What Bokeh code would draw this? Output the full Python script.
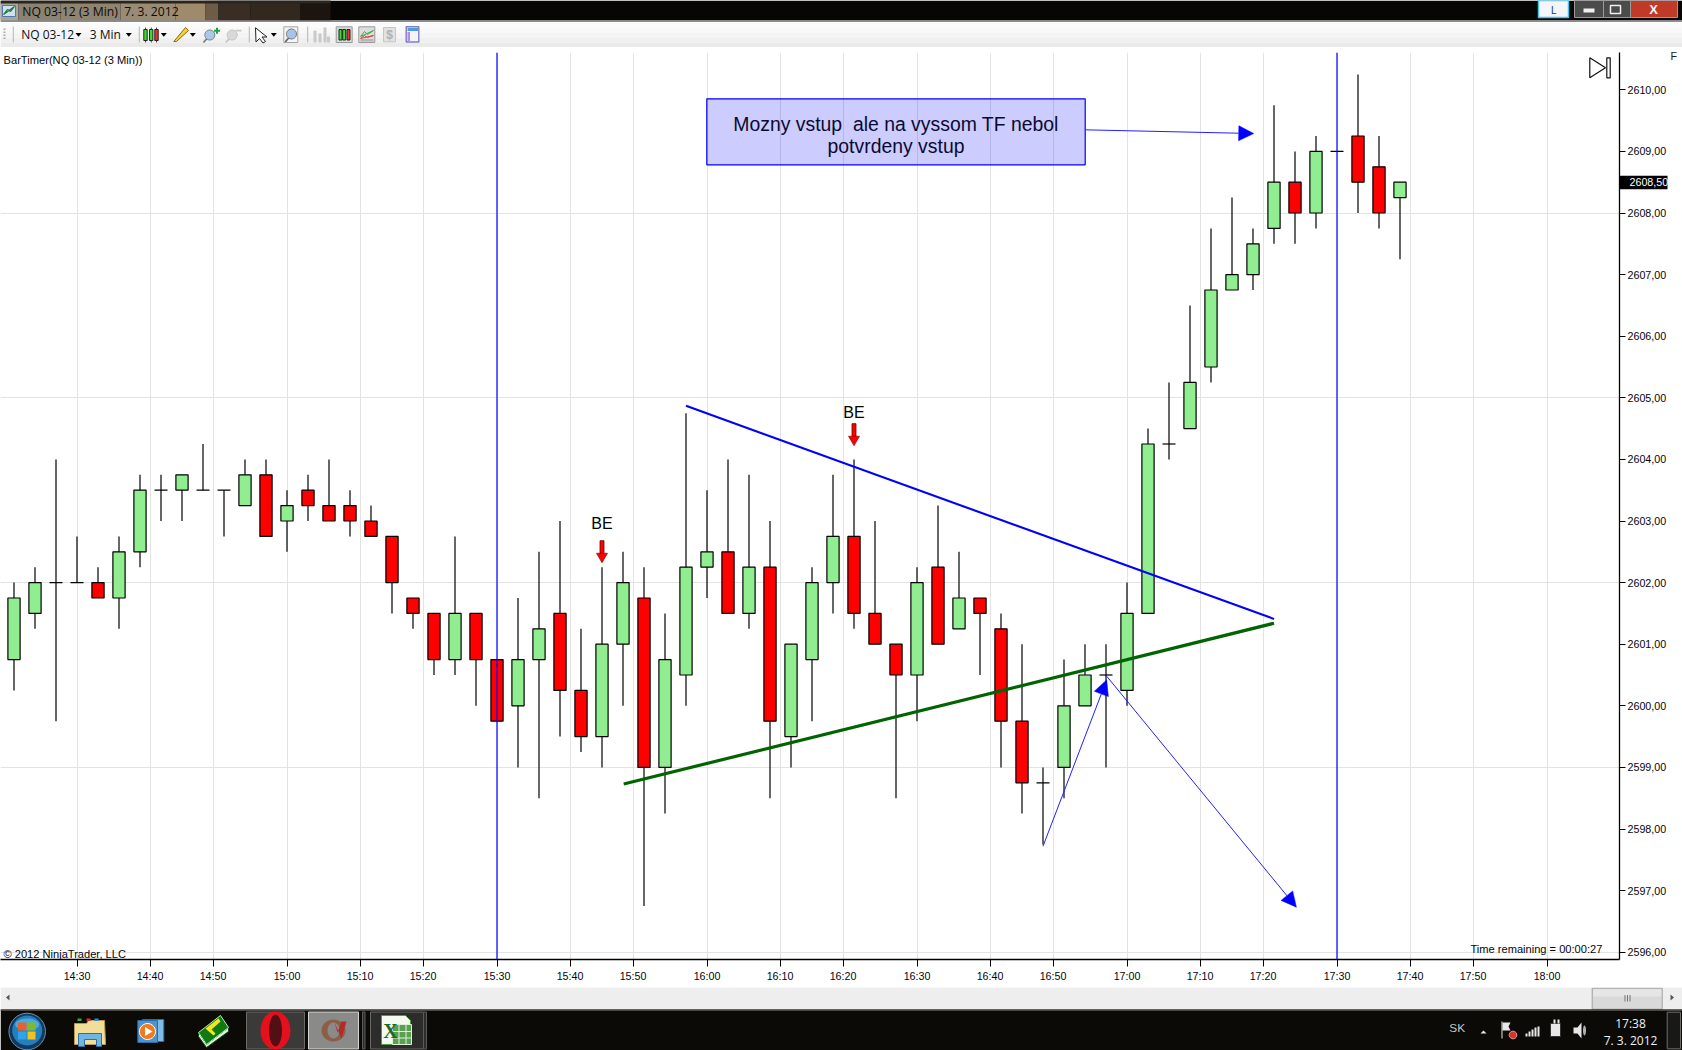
from bokeh.plotting import figure
from bokeh.embed import file_html
from bokeh.layouts import column
from bokeh.resources import INLINE
from bokeh.models import (Arrow, BoxAnnotation, FixedTicker, Label, LinearAxis, NormalHead,
                          PolyAnnotation, Range1d, Span)
import numpy as np

# ---------- data ----------
bar_minutes = list(range(861, 1062, 3))   # 14:21 ... 17:39, 3-minute bars
opens = [2600.75,2601.5,2602,2602,2602,2601.75,2602.5,2603.5,2603.5,2603.5,2603.5,2603.25,2603.75,2603,2603.5,2603.25,2603.25,2603,2602.75,2601.75,2601.5,2600.75,2601.5,2600.75,2600,2600.75,2601.5,2600.25,2599.5,2601,2601.75,2599,2600.5,2602.25,2602.5,2601.5,2602.25,2599.5,2600.75,2602,2602.75,2601.5,2601,2600.5,2602.25,2601.25,2601.75,2601.25,2599.75,2598.75,2599,2600,2600.5,2600.25,2601.5,2604.25,2604.5,2605.5,2606.75,2607,2607.75,2608.5,2608,2609,2609.25,2608.75,2608.25]
highs = [2602,2602.25,2604,2602.75,2602.25,2602.75,2603.75,2603.75,2603.75,2604.25,2603.5,2604,2604,2603.5,2603.75,2604,2603.5,2603.25,2602.75,2601.75,2601.5,2602.75,2601.5,2600.75,2601.75,2602.5,2603,2601.25,2602.25,2602.5,2602.25,2601.5,2604.75,2603.5,2604,2603.75,2603,2601,2602.25,2603.75,2604,2603,2601,2602.25,2603.25,2602.5,2601.75,2601.5,2601,2599,2600.75,2601,2601,2602,2604.5,2605.25,2606.5,2607.75,2608.25,2607.75,2609.75,2609,2609.25,2609,2610.25,2609.25,2608.5]
lows = [2600.25,2601.25,2599.75,2602,2601.75,2601.25,2602.25,2603,2603,2603.5,2602.75,2603.25,2602.75,2602.5,2603,2603,2602.75,2602.75,2601.5,2601.25,2600.5,2600.5,2600,2599.75,2599,2598.5,2599.5,2599.25,2599,2600,2596.75,2598.25,2600,2601.75,2601.5,2601.25,2598.5,2599,2599.75,2601.5,2601.25,2601,2598.5,2599.75,2601,2601.25,2600.5,2599,2598.25,2597.75,2598.5,2600,2599,2600,2601.5,2604,2604.5,2605.25,2606.75,2606.75,2607.5,2607.5,2607.75,2609,2608,2607.75,2607.25]
closes = [2601.75,2602,2602,2602,2601.75,2602.5,2603.5,2603.5,2603.75,2603.5,2603.5,2603.75,2602.75,2603.25,2603.25,2603,2603,2602.75,2602,2601.5,2600.75,2601.5,2600.75,2599.75,2600.75,2601.25,2600.25,2599.5,2601,2602,2599,2600.75,2602.25,2602.5,2601.5,2602.25,2599.75,2601,2602,2602.75,2601.5,2601,2600.5,2602,2601,2601.75,2601.5,2599.75,2598.75,2598.75,2600,2600.5,2600.5,2601.5,2604.25,2604.25,2605.25,2606.75,2607,2607.5,2608.5,2608,2609,2609,2608.5,2608,2608.5]

tick_minutes = [870,880.5,889.5,900,910.5,919.5,930,940.5,949.5,960,970.5,979.5,990,1000.5,1009.5,1020,1030.5,1039.5,1050,1060.5,1069.5,1080]
tick_labels = ["14:30","14:40","14:50","15:00","15:10","15:20","15:30","15:40","15:50","16:00","16:10","16:20","16:30","16:40","16:50","17:00","17:10","17:20","17:30","17:40","17:50","18:00"]
price_ticks = list(range(2596, 2611))
price_labels = [f"{v},00" for v in price_ticks]
grid_prices = [2596, 2599, 2602, 2605, 2608]
session_lines = [930, 1050]
last_price = 2608.5
last_price_label = "2608,50"

blue_trend_x = [957.0, 1041.0]
blue_trend_y = [2604.87, 2601.41]
green_trend_x = [948.1, 1041.0]
green_trend_y = [2598.73, 2601.34]
# x0, y0, x1, y1
arrows = [(1008.0, 2597.72, 1017.1, 2600.42),
          (1017.1, 2600.48, 1044.2, 2596.73),
          (1014.1, 2609.35, 1038.1, 2609.29)]
be_x = [945, 981]
be_text_y = [2602.955, 2604.765]
be_top = [2602.68, 2604.58]
be_tip = [2602.35, 2604.25]
note_lines = ["Mozny vstup \u00a0ale na vyssom TF nebol", "potvrdeny vstup"]
note_box = (959.97, 1014.03, 2608.782, 2609.854)
note_center_x = 987.0
note_line_y = [2609.45, 2609.09]

# ---------- figures: window top, chart, window bottom ----------
W = 1682
TOP_H, CHART_H, BOT_H = 47, 940, 63
FONT = "Liberation Sans"
FT, FW, FH = 52 - TOP_H, 1619, 907
px_per_min = 7.0
px_per_pt = 61.6
x_start = 930 - 496.5 / px_per_min
y_start = 2596 - (52 + FH - 951.7) / px_per_pt

p = figure(width=W, height=CHART_H, output_backend="svg", toolbar_location=None,
           x_range=(x_start, x_start + FW / px_per_min),
           y_range=(y_start, y_start + FH / px_per_pt),
           y_axis_location="right", min_border_left=0, min_border_top=FT,
           min_border_right=W - FW, min_border_bottom=CHART_H - FT - FH, frame_align=False)
p.outline_line_color = None
p.background_fill_color = "white"
p.border_fill_color = "white"

def strip(height, y0):
    f = figure(width=W, height=height, output_backend="svg", toolbar_location=None,
               x_range=Range1d(0, W), y_range=Range1d(y0 + height, y0),
               x_axis_location=None, y_axis_location=None, min_border=0, frame_align=False)
    f.outline_line_color = None
    f.grid.visible = False
    f.background_fill_color = "white"
    f.border_fill_color = "white"
    return f
top = strip(TOP_H, 0)
bot = strip(BOT_H, TOP_H + CHART_H)

tick_pos = [t - 0.07 if t % 3 else t for t in tick_minutes]
p.xaxis.ticker = FixedTicker(ticks=tick_pos)
p.xaxis.major_label_overrides = dict(zip(tick_pos, tick_labels))
p.yaxis.ticker = FixedTicker(ticks=price_ticks)
p.yaxis.major_label_overrides = dict(zip(price_ticks, price_labels))
for ax in (p.xaxis[0], p.yaxis[0]):
    ax.axis_line_color = "black"
    ax.axis_line_width = 1.3
    ax.major_tick_line_color = "black"
    ax.major_tick_line_width = 1
    ax.major_tick_in = 0
    ax.minor_tick_line_color = None
    ax.major_label_text_font = FONT
    ax.major_label_text_font_size = "10.7px"
    ax.major_label_text_color = "#050510"
p.xaxis.major_tick_out = 7
p.xaxis.major_label_standoff = 3
p.yaxis.major_tick_out = 6
p.yaxis.major_label_standoff = 2
p.xgrid.ticker = FixedTicker(ticks=tick_pos)
p.ygrid.ticker = FixedTicker(ticks=grid_prices)
p.xgrid.grid_line_color = "#E3E3E3"
p.ygrid.grid_line_color = "#E3E3E3"
p.xgrid.grid_line_width = 1
p.ygrid.grid_line_width = 1

for s in session_lines:
    p.add_layout(Span(location=s, dimension="height", line_color="#0000FF", line_width=1.2))

# candles
up_x, up_o, up_c, dn_x, dn_o, dn_c, dj_x, dj_y = [], [], [], [], [], [], [], []
for m, o, c in zip(bar_minutes, opens, closes):
    if c > o:
        up_x.append(m); up_o.append(o); up_c.append(c)
    elif c < o:
        dn_x.append(m); dn_o.append(o); dn_c.append(c)
    else:
        dj_x.append(m); dj_y.append(o)
p.segment(bar_minutes, lows, bar_minutes, highs, line_color="black", line_width=1.2)
body_w = 12.2 / px_per_min
p.vbar(x=up_x, bottom=up_o, top=up_c, width=body_w, fill_color="#90EE90", line_color="black", line_width=1.2)
p.vbar(x=dn_x, bottom=dn_c, top=dn_o, width=body_w, fill_color="#FF0000", line_color="black", line_width=1.2)
p.segment([x - 6.5 / px_per_min for x in dj_x], dj_y, [x + 6.5 / px_per_min for x in dj_x], dj_y,
          line_color="black", line_width=1.2)

# annotation box
p.quad(left=[note_box[0]], right=[note_box[1]], bottom=[note_box[2]], top=[note_box[3]],
       fill_color="#0000FF", fill_alpha=0.2, line_color="#0000FF", line_width=1.2)
for t, ly in zip(note_lines, note_line_y):
    p.add_layout(Label(x=note_center_x, y=ly, text=t, text_align="center", text_baseline="middle",
                       text_font=FONT, text_font_size="19.4px", text_color="#0a0a30"))

# trend lines and arrows
p.line(blue_trend_x, blue_trend_y, line_color="#0000FF", line_width=2.1)
p.line(green_trend_x, green_trend_y, line_color="#006400", line_width=3.2)
for x0, y0, x1, y1 in arrows:
    p.add_layout(Arrow(x_start=x0, y_start=y0, x_end=x1, y_end=y1, line_color="#2020FF", line_width=1,
                       end=NormalHead(size=15, fill_color="#0000FF", line_color="#0000FF", line_width=0.5)))

# BE markers
be_mid = [(a + b + 0.1) / 2 for a, b in zip(be_top, be_tip)]
be_len = [a - b - 0.1 for a, b in zip(be_top, be_tip)]
p.rect(x=be_x, y=be_mid, width=4, width_units="screen", height=be_len, fill_color="#FF0000",
       line_color="#700000", line_width=0.8)
p.scatter(x=be_x, y=[b + 0.075 for b in be_tip], marker="inverted_triangle", size=11,
          fill_color="#FF0000", line_color="#700000", line_width=0.6)
for x, y in zip(be_x, be_text_y):
    p.add_layout(Label(x=x, y=y, text="BE", text_align="center", text_baseline="middle",
                       text_font=FONT, text_font_size="16px", text_color="black"))

# ---------- window chrome, in screenshot pixels ----------
def box(f, l, t, r, b, fill, line=None, lw=1):
    f.add_layout(BoxAnnotation(left=l, right=r, top=t, bottom=b,
                               fill_color=fill, fill_alpha=1 if fill else 0,
                               line_color=line, line_width=lw, line_alpha=1 if line else 0,
                               editable=False, level="overlay"))
def poly(f, xs, ys, fill, line=None, lw=1):
    f.add_layout(PolyAnnotation(xs=[float(x) for x in xs], ys=[float(y) for y in ys],
                                fill_color=fill, fill_alpha=1 if fill else 0,
                                line_color=line, line_width=lw, line_alpha=1 if line else 0,
                                level="overlay"))
def circ(f, cx, cy, rx, fill, line=None, ry=None, lw=1):
    ry = ry or rx
    a = np.linspace(0, 2 * np.pi, 28)[:-1]
    poly(f, list(cx + rx * np.cos(a)), list(cy + ry * np.sin(a)), fill, line, lw)
def text(f, x, y, s, size, color="black", font=FONT, align="left", weight="normal"):
    f.add_layout(Label(x=x, y=y, text=s, text_font=font, text_font_size=f"{size}px",
                       text_color=color, text_align=align, text_baseline="middle",
                       text_font_style=weight, level="overlay"))
def tri_down(f, cx, cy, c="black", s=3):
    poly(f, [cx - s, cx + s, cx], [cy - s / 2, cy - s / 2, cy + s / 1.4], c)

# title bar
box(top, 0, 0, 1682, 20, "#080604")
bands = [(18, "#A6A69C"), (60, "#8A8272"), (120, "#8E8470"), (175, "#9A8C74"), (205, "#A08A6C"),
         (218, "#6E5C48"), (250, "#3A2E24"), (300, "#33281E"), (330, "#1C150F")]
px = 0
for x2, c in bands:
    box(top, px, 0, x2, 20, c)
    px = x2
box(top, 0, 0, 330, 3, "#2A251F")
box(top, 0, 20, 1682, 21.5, "#8d8d8d")
box(top, 0, 21.5, 1682, 22.5, "#FFFFFF")
poly(top, [2, 15, 15, 2], [5, 5, 16, 16], "#cfe0f2", "#5577aa")
poly(top, [3, 7, 10, 14], [14, 9, 11, 6], None, "#1a7a30", 1.2)
text(top, 21.7, 11, "NQ 03-12 (3 Min) \u00a07. 3. 2012", 12.2, "#0c0a08", "Open Sans")
box(top, 1538, 0, 1568, 17, "#F4F6FA", "#41C8F0", 1.5)
text(top, 1553, 9, "L", 11, "#18308a", "Open Sans", "center")
box(top, 1574, 0, 1603, 17, "#4b4b4b", "#999999")
box(top, 1603, 0, 1630, 17, "#4b4b4b", "#999999")
box(top, 1630, 0, 1677, 17, "#C03A28", "#999999")
box(top, 1583, 8, 1594, 12, "#F0F0F0")
box(top, 1610, 5, 1620, 13, None, "#F0F0F0", 1.5)
text(top, 1653, 8.5, "X", 13, "#F4F4F4", FONT, "center", "bold")

# toolbar
shades = ["#FBFBFB", "#F8F8F8", "#F4F4F4", "#EFEFEF", "#EAEAEA"]
for i, c in enumerate(shades):
    box(top, 0, 22.5 + i * 4.9, 1682, 22.5 + (i + 1) * 4.9, c)
for y in (28, 31, 34, 37):
    box(top, 3, y, 5, y + 1.5, "#A8A8A8")
for x in (12.3, 138.3, 248.3, 306.7):
    box(top, x, 26, x + 1, 42, "#B5B5B5")
text(top, 20.7, 34, "NQ 03-12", 12, "#101010", "Open Sans")
text(top, 89.3, 34, "3 Min", 12, "#101010", "Open Sans")
for x in (78, 128.3, 163.3, 192.3, 273.3):
    tri_down(top, x, 34)
for x, c in ((145, "#3DDC2E"), (150.7, "#3DDC2E"), (156, "#E8332A")):
    box(top, x - 0.4, 27, x + 0.4, 42, "#222222")
    box(top, x - 1.7, 29, x + 1.7, 40, c, "#222222")
poly(top, [173.3, 176, 188, 185], [41, 41, 30, 27], "#F6CE3E", "#8a6a10")
for cx_, pl in ((209.3, True), (231.7, False)):
    col = "#7d7d7d" if pl else "#C4C4C4"
    poly(top, [cx_ - 7, cx_ - 5.6, cx_ - 2.2, cx_ - 3.6], [41.5, 42.5, 38.5, 37.5], col)
    circ(top, cx_, 34.5, 5, "#A9C8EA" if pl else "#D9D9D9", col)
box(top, 213.5, 29.3, 219.5, 31.3, "#11A83A")
box(top, 215.5, 27.3, 217.5, 33.3, "#11A83A")
box(top, 235, 29.3, 241, 31, "#C8C8C8")
poly(top, [255, 266.5, 261.5, 265, 262.5, 259, 255.5], [27.3, 36.5, 36.5, 41, 42.5, 38, 41.5], "#FFFFFF", "#222222")
box(top, 283.3, 26.3, 297.3, 42, "#F4F4F4", "#A5A5A5")
poly(top, [284, 285.4, 288.8, 287.4], [41, 42, 38, 37], "#666666")
circ(top, 291, 33.5, 5, "#A5C5E8", "#777777")
for x, h in ((313, 12), (318, 9), (323, 15), (326.5, 6)):
    box(top, x, 42 - h, x + 3, 42, "#C9C9C9")
box(top, 335.7, 26.3, 351.7, 42, "#DADADA", "#9A9A9A")
for x, c in ((340, "#3DDC2E"), (343.7, "#3DDC2E"), (348, "#E8332A")):
    box(top, x - 1.5, 29, x + 1.5, 39.5, c, "#222222")
box(top, 358.3, 26.3, 374.3, 42, "#DEDEDE", "#9A9A9A")
poly(top, [360, 364, 367, 373], [36, 31, 34, 30], None, "#30B040", 1)
poly(top, [360, 364, 367, 373], [38, 35, 37, 35], None, "#E04040", 1)
box(top, 360, 38.5, 373, 41, "#B5B5B5")
box(top, 383, 27, 395, 41.3, "#E2E2E2", "#C5C5C5")
text(top, 389, 34.5, "$", 12, "#B0B0B0", FONT, "center", "bold")
box(top, 405.7, 26.3, 418.3, 41.5, "#F4F4FB", "#7D7DC8", 1.4)
box(top, 407, 27.5, 417.5, 30.5, "#4E9BE0")
box(top, 407, 31.5, 409.5, 40.5, "#B38BE8")

# chart captions: chart figure, its own data space is prices and minutes
def cx(x): return x_start + x / px_per_min
def cy(y): return y_start + (52 + FH - y) / px_per_pt
def ctext(x, y, s, size):
    p.add_layout(Label(x=cx(x), y=cy(y), text=s, text_font=FONT, text_font_size=f"{size}px",
                       text_color="#050510", text_baseline="middle"))
ctext(3, 59, "BarTimer(NQ 03-12 (3 Min))", 11.15)
ctext(3, 953, "\u00a9 2012 NinjaTrader, LLC", 11.1)
ctext(1470, 948.5, "Time remaining = 00:00:27", 11.1)
p.add_layout(PolyAnnotation(xs=[cx(1589.3), cx(1605), cx(1589.3)], ys=[cy(57.3), cy(67.3), cy(77.3)],
                            fill_color="white", fill_alpha=1, line_color="#111111", line_alpha=1, line_width=1.2))
p.add_layout(BoxAnnotation(left=cx(1606.3), right=cx(1609.7), top=cy(57.3), bottom=cy(77.3),
                           fill_color="white", fill_alpha=1, line_color="#111111", line_alpha=1,
                           line_width=1.2, editable=False))

# right margin: last price tag and the F mark, drawn as axes of their own
def margin_axis(tick, label, color, standoff, tick_color=None, tick_width=1, t_in=0, t_out=0):
    ax = LinearAxis(ticker=FixedTicker(ticks=[tick]), major_label_overrides={tick: label},
                    axis_line_color=None, major_tick_line_color=tick_color,
                    major_tick_line_width=tick_width, minor_tick_line_color=None,
                    major_tick_in=t_in, major_tick_out=t_out, major_label_standoff=standoff,
                    major_label_text_font=FONT, major_label_text_font_size="10.7px",
                    major_label_text_color=color)
    p.add_layout(ax, "right")
F_TICK = 2610.55
margin_axis(last_price, last_price_label, "white", -40, "black", 13.3, 50, -2)
margin_axis(F_TICK, "F", "#202020", -1)

# scrollbar
box(bot, 0, 986.7, 1682, 1009, "#EEEEEE")
box(bot, 0, 986.7, 1682, 987.5, "#F6F6F6")
poly(bot, [9, 5.5, 9], [994, 997, 1000], "#555555")
box(bot, 1591.7, 987.7, 1661.7, 1008.7, "#D9D9D9", "#A0A0A0")
box(bot, 1592.7, 988.7, 1660.7, 996, "#E6E6E6")
for x in (1624, 1626.5, 1629):
    box(bot, x, 994.5, x + 1, 1001, "#777777")
poly(bot, [1670, 1673.5, 1670], [994, 997, 1000], "#555555")

# task bar
box(bot, 0, 1009, 1682, 1050, "#0C0A07")
box(bot, 0, 1009, 1682, 1010.5, "#4A4640")
circ(bot, 26.7, 1031, 18.3, "#12395F", "#6E8FA8")
circ(bot, 26.7, 1030, 15, "#2380BE")
circ(bot, 26.7, 1024, 12, "#4FA8DC", None, 6)
box(bot, 17.5, 1022, 26, 1030, "#E8602C")
box(bot, 27, 1022, 35, 1030, "#7FBA2E")
box(bot, 17.5, 1031, 26, 1039, "#2FA4E8")
box(bot, 27, 1031, 35, 1039, "#F4C11E")
# folder
poly(bot, [74, 86, 88, 104, 105, 74], [1023, 1023, 1020, 1020, 1044, 1044], "#F0DE9A", "#B89B50")
for x, c in ((77, "#2EAA3E"), (86, "#C8332C"), (94, "#2E88D8")):
    box(bot, x, 1018, x + 4, 1020.5, c)
poly(bot, [78, 101, 101, 96, 96, 84, 84, 78], [1033, 1033, 1046, 1046, 1039, 1039, 1046, 1046], "#6FB6E2", "#2F6EA6")
# media
box(bot, 142, 1019, 163.3, 1041, "#7FBDE5", "#2C6CA8")
box(bot, 137.3, 1020, 157, 1042, "#4B94CE", "#2C6CA8")
circ(bot, 147, 1031, 8, "#F07A1C", "#FFFFFF")
poly(bot, [144.5, 152, 144.5], [1026.5, 1031, 1035.5], "#FFFFFF")
# book
poly(bot, [198, 206, 228, 228, 206, 198], [1032, 1044, 1027, 1031, 1047, 1036], "#E6F4E6", "#0F4A10")
poly(bot, [198, 220, 228, 206], [1032, 1015, 1027, 1044], "#0F7A10", "#B8E8B8")
poly(bot, [205, 218, 220, 211, 215, 213], [1028, 1018, 1021, 1029, 1033, 1035], "#F2E81E")
# buttons
for l, r, c, e in ((246, 304, "#3A3A38", "#6A6A68"), (308, 358, "#8A8A88", "#D6D6D6"), (370, 423, "#2C2C2A", "#6A6A68")):
    box(bot, l, 1011.5, r, 1048.5, c, e)
box(bot, 362, 1011.5, 364.5, 1048.5, "#2C2C2A", "#5A5A58")
box(bot, 423, 1011.5, 426, 1048.5, "#2C2C2A", "#5A5A58")
circ(bot, 275, 1030, 15, "#E5101E", None, 19)
circ(bot, 275, 1030, 6.5, "#521015", None, 16)
circ(bot, 333, 1030, 12, "#8C5E46", None, 11)
circ(bot, 333, 1030, 6, "#8A8A88", None, 8)
poly(bot, [334, 341, 346, 341, 337], [1022, 1038, 1021, 1021, 1032], "#B42A2A")
poly(bot, [381, 405, 410, 410, 381], [1015, 1015, 1020, 1044, 1044], "#F4FAF0", "#4E9C3E")
box(bot, 392, 1024, 411, 1044, "#5AA052", "#DFF0DA")
for bx in (398, 405):
    box(bot, bx, 1024, bx + 1, 1044, "#DFF0DA")
for by in (1030.5, 1037):
    box(bot, 392, by, 411, by + 1, "#DFF0DA")
text(bot, 390, 1030, "X", 20, "#1A6A2A", "Liberation Serif", "center", "bold")
# tray
text(bot, 1456.7, 1027, "SK", 11.8, "#C8C8C8", FONT, "center")
poly(bot, [1480, 1486, 1483], [1033, 1033, 1030], "#E8E8E8")
box(bot, 1501, 1021, 1502, 1038, "#E8E8E8")
poly(bot, [1502, 1510, 1508, 1510, 1502], [1022, 1022, 1026, 1030, 1030], "#E8E8E8")
circ(bot, 1512.5, 1034.5, 3.8, "#D8342C", "#F0A0A0")
for i, h in enumerate((3, 5, 7, 9, 10)):
    box(bot, 1525 + i * 3, 1036 - h, 1527 + i * 3, 1036, "#E6E6E6")
box(bot, 1550, 1023, 1560, 1036, "#E8E8E8", "#333333")
box(bot, 1553, 1019, 1555, 1023, "#E8E8E8")
box(bot, 1557, 1019, 1559, 1023, "#E8E8E8")
poly(bot, [1573, 1577, 1581, 1581, 1577, 1573], [1027, 1027, 1022, 1038, 1033, 1033], "#E6E6E6")
circ(bot, 1584, 1030, 1.5, "#B0B0B0", None, 5)
text(bot, 1630, 1022.5, "17:38", 12, "#F0F0F0", "Open Sans", "center")
text(bot, 1630, 1039.5, "7. 3. 2012", 12, "#F0F0F0", "Open Sans", "center")
box(bot, 1666.7, 1011.7, 1680, 1048.3, "#181816", "#6E6E6C")

layout = column(top, p, bot, spacing=0)
open("out.html", "w").write(file_html(layout, INLINE))
